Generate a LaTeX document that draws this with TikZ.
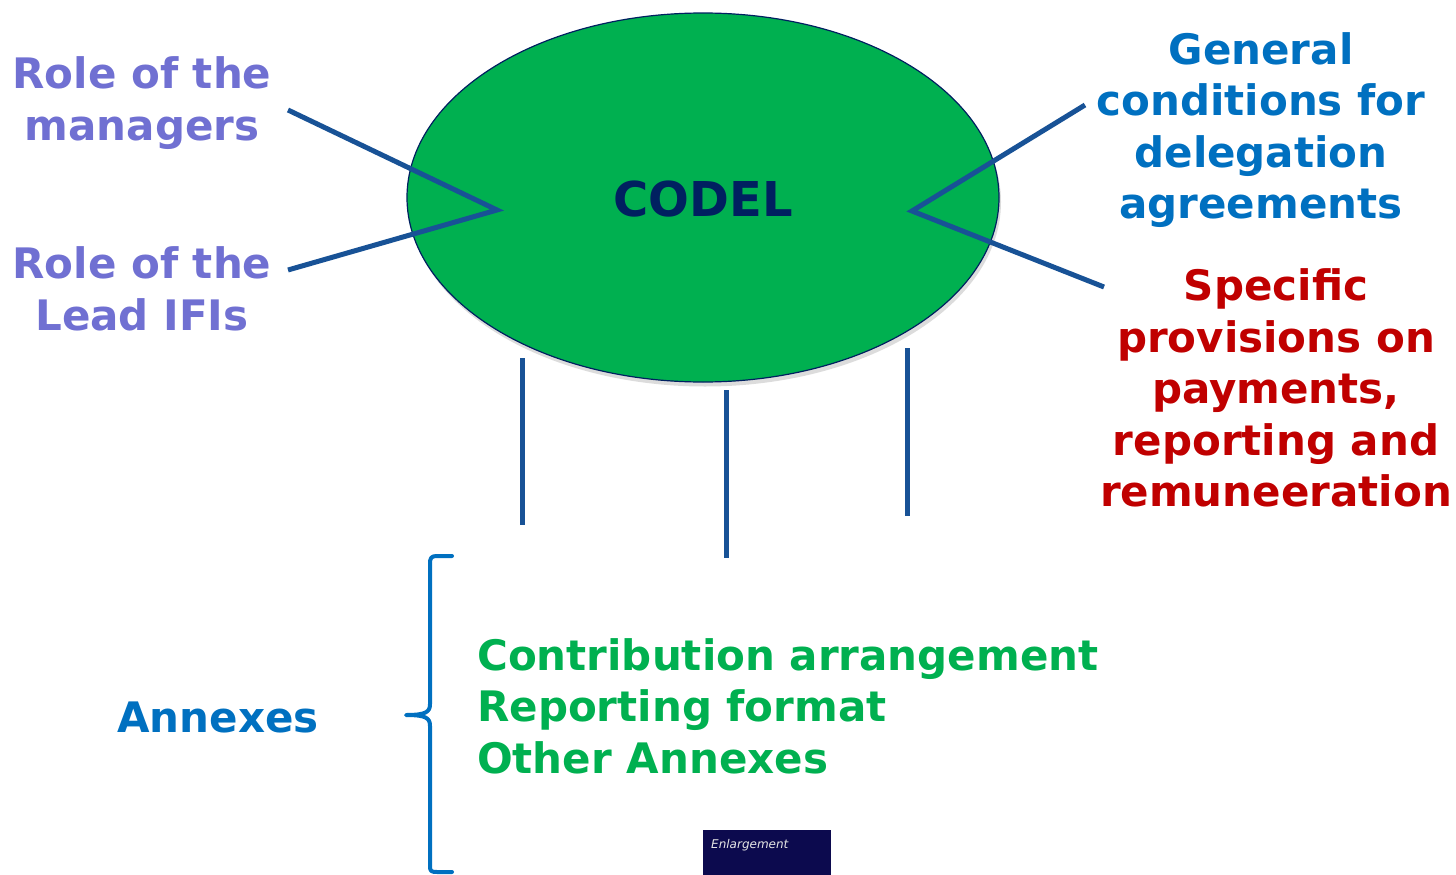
\documentclass[tikz,border=0pt]{standalone}
\usepackage{fontspec}
\setmainfont{DejaVu Sans}
\usetikzlibrary{shapes.geometric}
\definecolor{purp}{RGB}{112,112,210}
\definecolor{blu}{RGB}{0,112,192}
\definecolor{rd}{RGB}{192,0,0}
\definecolor{grn}{RGB}{0,176,80}
\definecolor{navy}{RGB}{0,32,96}
\definecolor{lineblue}{RGB}{24,82,150}
\definecolor{logo}{RGB}{12,10,78}
\tikzset{
  lbl/.style={font=\bfseries\fontsize{42}{51.5}\selectfont, align=center, inner sep=0pt},
  conn/.style={draw=lineblue, line width=5pt},
  bracestyle/.style={draw=blu, line width=4pt, line cap=round, line join=round},
}
\begin{document}
\begin{tikzpicture}[x=1pt,y=-1pt]
\useasboundingbox (0,0) rectangle (1456,875);
% ellipse shadow
\fill[black!30, opacity=0.45] (705,202) ellipse [x radius=296, y radius=184.5];
\node[ellipse, draw=navy, line width=1.2pt, fill=grn, minimum width=592pt, minimum height=369pt, inner sep=0pt] (codel) at (703,197.5) {};
\node[font=\bfseries\fontsize{48}{50}\selectfont, text=navy, inner sep=0pt] (codeltext) at (703,199) {CODEL};

% left labels
\node[lbl, text=purp] (mgr) at (142,103) {Role of the\\managers};
\node[lbl, text=purp] (ifi) at (142,289) {Role of the\\Lead IFIs};
% right labels
\node[lbl, text=blu] (gen) at (1261,130) {General\\conditions for\\delegation\\agreements};
\node[lbl, text=rd] (spec) at (1276,388) {Specific\\provisions on\\payments,\\reporting and\\remuneeration};

% connector points
\coordinate (lj) at (497,210);
\coordinate (rj) at (912,211);
\coordinate (mgrE) at (288,110);
\coordinate (ifiE) at (288,270);
\coordinate (genW) at (1085,105);
\coordinate (specW) at (1104,287);
\draw[conn] (mgrE) -- (lj) -- (ifiE);
\draw[conn] (genW) -- (rj) -- (specW);

\coordinate (v1t) at (522,358); \coordinate (v1b) at (522,525);
\coordinate (v2t) at (726,390); \coordinate (v2b) at (726,558);
\coordinate (v3t) at (907,348); \coordinate (v3b) at (907,516);
\draw[conn] (v1t) -- (v1b);
\draw[conn] (v2t) -- (v2b);
\draw[conn] (v3t) -- (v3b);

% annexes
\node[lbl, text=blu] (annex) at (218,717) {Annexes};
\coordinate (btip) at (406,715);
\draw[bracestyle] (452,556) -- (437,556) .. controls (431,556) and (430,558) .. (430,564) -- (430,704)
  .. controls (430,712) and (426,715) .. (btip)
  .. controls (426,715) and (430,718) .. (430,726) -- (430,866)
  .. controls (430,871) and (431,872) .. (437,872) -- (452,872);
\node[lbl, text=grn, align=left, anchor=west] (list) at (477,706) {Contribution arrangement\\Reporting format\\Other Annexes};

% logo
\fill[logo] (703,830) rectangle (831,875);
\node[font=\itshape\fontsize{12}{13}\selectfont, text=white!80!gray, inner sep=0pt, anchor=west] (logotext) at (711,845) {Enlargement};
\end{tikzpicture}
\end{document}
